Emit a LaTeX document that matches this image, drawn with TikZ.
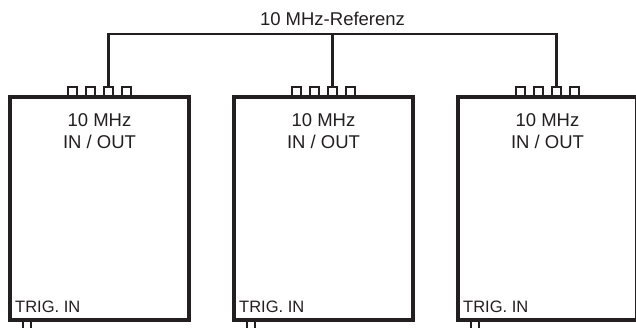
\documentclass[tikz,border=0pt]{standalone}
\usepackage{fontspec}
\setmainfont{Liberation Sans}
\usetikzlibrary{positioning}
\definecolor{ink}{RGB}{35,31,32}

\begin{document}
\begin{tikzpicture}[x=1pt, y=1pt, node distance=224pt]
		\useasboundingbox (0,0) rectangle (636,327);
		\clip (0,0) rectangle (636,327);
		
		\tikzstyle{device} = [rectangle, draw=ink, line width=3.3pt, minimum width=179pt, minimum height=223pt, inner sep=0pt, outer sep=0pt]
		\tikzstyle{port} = [rectangle, draw=ink, line width=2.4pt, minimum width=8.5pt, minimum height=10pt, inner sep=0pt, outer sep=0pt]
		\tikzstyle{title} = [align=center, inner sep=0pt, text=ink, font=\fontsize{18.5}{22}\selectfont]
		\tikzstyle{trig} = [anchor=base west, inner sep=0pt, text=ink, font=\fontsize{16.5}{18}\selectfont]
		\tikzstyle{wire} = [draw=ink, line width=2.7pt]
		
		% Define nodes
		\node[device] (first) at (99.5,118.5) {};
		\node[device, right of=first] (second) {};
		\node[device, right of=second] (third) {};
		
		\node[title, below=16pt of first.north] (firstio) {10 MHz\\IN / OUT};
		\node[title, below=16pt of second.north] (secondio) {10 MHz\\IN / OUT};
		\node[title, below=16pt of third.north] (thirdio) {10 MHz\\IN / OUT};
		
		\node[trig] (firsttrig) at ([shift={(5,8)}]first.south west) {TRIG. IN};
		\node[trig] (secondtrig) at ([shift={(5,8)}]second.south west) {TRIG. IN};
		\node[trig] (thirdtrig) at ([shift={(5,8)}]third.south west) {TRIG. IN};
		
		% Ports on top
		\node[port, above=0pt of first.north, xshift=-27pt] (firsta) {};
		\node[port, above=0pt of first.north, xshift=-9pt] (firstb) {};
		\node[port, above=0pt of first.north, xshift=9pt] (firstc) {};
		\node[port, above=0pt of first.north, xshift=27pt] (firstd) {};
		\node[port, above=0pt of second.north, xshift=-27pt] (seconda) {};
		\node[port, above=0pt of second.north, xshift=-9pt] (secondb) {};
		\node[port, above=0pt of second.north, xshift=9pt] (secondc) {};
		\node[port, above=0pt of second.north, xshift=27pt] (secondd) {};
		\node[port, above=0pt of third.north, xshift=-27pt] (thirda) {};
		\node[port, above=0pt of third.north, xshift=-9pt] (thirdb) {};
		\node[port, above=0pt of third.north, xshift=9pt] (thirdc) {};
		\node[port, above=0pt of third.north, xshift=27pt] (thirdd) {};
		
		% Trigger ports below
		\node[port, below=0pt of first.south west, xshift=17pt] (firststub) {};
		\node[port, below=0pt of second.south west, xshift=17pt] (secondstub) {};
		\node[port, below=0pt of third.south west, xshift=17pt] (thirdstub) {};
		
		% Draw reference line
		\draw[wire] (firstc.north) -- ++(0,53) coordinate (bus) -| (thirdc.north);
		\draw[wire] (secondc.north) -- (secondc.north |- bus);
		\node[title, anchor=base] (reflabel) at ([yshift=8pt]secondc.north |- bus) {10 MHz-Referenz};
		
	\end{tikzpicture}
\end{document}
